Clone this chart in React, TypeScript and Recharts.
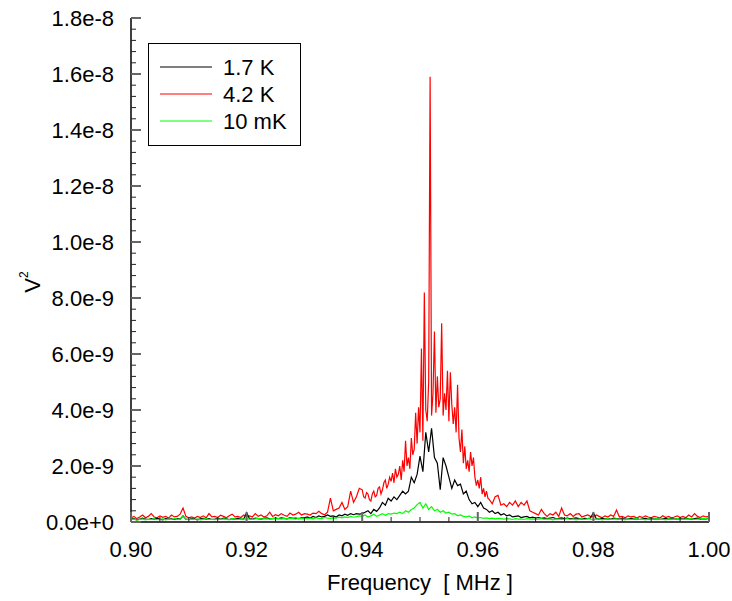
import { Legend, Line, LineChart, XAxis, YAxis } from 'recharts';

// sweep grids, MHz (4.2 K trace is sampled finer across the resonance)
const COARSE_STEP = 0.0005;
const FINE_STEP = 0.00025;

// noise power, units of 1e-9 V^2; 0.900 .. 1.000 every 0.0005
const K17 = [
    0.1, 0.12, 0.08, 0.1, 0.14, 0.1, 0.09, 0.12, 0.1, 0.13,
    0.1, 0.08, 0.12, 0.1, 0.11, 0.09, 0.12, 0.1, 0.22, 0.1,
    0.09, 0.12, 0.1, 0.08, 0.11, 0.13, 0.1, 0.12, 0.09, 0.1,
    0.12, 0.1, 0.14, 0.11, 0.09, 0.12, 0.1, 0.13, 0.11, 0.1,
    0.33, 0.12, 0.1, 0.14, 0.12, 0.1, 0.13, 0.15, 0.11, 0.12,
    0.14, 0.12, 0.15, 0.13, 0.11, 0.16, 0.13, 0.14, 0.12, 0.15,
    0.15, 0.18, 0.14, 0.2, 0.16, 0.22, 0.18, 0.2, 0.25, 0.2,
    0.22, 0.18, 0.25, 0.22, 0.28, 0.24, 0.3, 0.26, 0.3, 0.28,
    0.3, 0.35, 0.4, 0.3, 0.45, 0.38, 0.5, 0.7, 0.6, 0.85,
    0.75, 0.9, 0.8, 0.95, 1.1, 1.0, 1.1, 1.6, 1.4, 1.7,
    2.35, 1.8, 3.2, 2.5, 3.35, 2.3, 2.1, 1.15, 2.3, 2.0,
    1.6, 1.2, 1.5, 1.3, 1.35, 1.0, 1.1, 0.8, 0.65, 0.7,
    0.55, 0.7, 0.5, 0.45, 0.35, 0.4, 0.3, 0.35, 0.25, 0.3,
    0.22, 0.25, 0.18, 0.2, 0.22, 0.16, 0.18, 0.2, 0.15, 0.17,
    0.14, 0.16, 0.13, 0.15, 0.12, 0.14, 0.16, 0.12, 0.13, 0.15,
    0.12, 0.14, 0.11, 0.13, 0.15, 0.12, 0.1, 0.13, 0.12, 0.14,
    0.33, 0.12, 0.1, 0.13, 0.11, 0.12, 0.1, 0.14, 0.12, 0.1,
    0.12, 0.1, 0.11, 0.13, 0.1, 0.12, 0.09, 0.11, 0.13, 0.1,
    0.11, 0.1, 0.12, 0.09, 0.11, 0.13, 0.1, 0.12, 0.1, 0.11,
    0.12, 0.1, 0.13, 0.11, 0.1, 0.12, 0.14, 0.1, 0.12, 0.11, 0.13,
];

const MK10 = [
    0.08, 0.1, 0.07, 0.09, 0.11, 0.08, 0.1, 0.09, 0.12, 0.08,
    0.09, 0.11, 0.08, 0.1, 0.09, 0.12, 0.1, 0.09, 0.2, 0.1,
    0.08, 0.1, 0.09, 0.11, 0.08, 0.1, 0.12, 0.09, 0.1, 0.08,
    0.1, 0.09, 0.11, 0.1, 0.08, 0.12, 0.1, 0.09, 0.11, 0.1,
    0.12, 0.1, 0.09, 0.11, 0.13, 0.1, 0.12, 0.1, 0.11, 0.13,
    0.11, 0.12, 0.1, 0.13, 0.11, 0.14, 0.12, 0.1, 0.13, 0.12,
    0.13, 0.12, 0.14, 0.11, 0.15, 0.13, 0.12, 0.16, 0.14, 0.13,
    0.15, 0.14, 0.17, 0.15, 0.18, 0.16, 0.2, 0.17, 0.19, 0.22,
    0.2, 0.25, 0.18, 0.22, 0.28, 0.2, 0.25, 0.3, 0.24, 0.3,
    0.28, 0.32, 0.3, 0.35, 0.3, 0.4, 0.35, 0.45, 0.5, 0.62,
    0.7, 0.5, 0.65, 0.45, 0.55, 0.4, 0.45, 0.35, 0.4, 0.32,
    0.35, 0.28, 0.3, 0.22, 0.25, 0.2, 0.18, 0.22, 0.15, 0.18,
    0.14, 0.16, 0.13, 0.15, 0.12, 0.14, 0.11, 0.13, 0.12, 0.1,
    0.12, 0.11, 0.09, 0.12, 0.1, 0.11, 0.09, 0.12, 0.1, 0.11,
    0.09, 0.1, 0.12, 0.09, 0.11, 0.1, 0.08, 0.11, 0.1, 0.09,
    0.1, 0.12, 0.09, 0.11, 0.08, 0.1, 0.11, 0.09, 0.12, 0.1,
    0.09, 0.1, 0.11, 0.08, 0.1, 0.12, 0.09, 0.1, 0.11, 0.09,
    0.1, 0.08, 0.11, 0.09, 0.1, 0.12, 0.09, 0.1, 0.08, 0.11,
    0.09, 0.1, 0.12, 0.09, 0.1, 0.08, 0.11, 0.1, 0.09, 0.12,
    0.1, 0.09, 0.11, 0.1, 0.12, 0.09, 0.1, 0.11, 0.13, 0.12, 0.15,
];

// 4.2 K: 0.900 .. 0.9395 every 0.0005
const K42_LOW = [
    0.15, 0.2, 0.12, 0.18, 0.25, 0.15, 0.2, 0.3, 0.18, 0.15,
    0.22, 0.17, 0.2, 0.14, 0.25, 0.18, 0.2, 0.28, 0.5, 0.2,
    0.15, 0.18, 0.14, 0.2, 0.16, 0.22, 0.15, 0.3, 0.18, 0.2,
    0.16, 0.24, 0.2, 0.15, 0.22, 0.28, 0.18, 0.2, 0.16, 0.25,
    0.2, 0.22, 0.18, 0.3, 0.2, 0.25, 0.18, 0.22, 0.35, 0.2,
    0.26, 0.22, 0.3, 0.24, 0.2, 0.32, 0.25, 0.28, 0.35, 0.25,
    0.3, 0.28, 0.25, 0.32, 0.3, 0.38, 0.3, 0.26, 0.35, 0.85,
    0.4, 0.45, 0.5, 0.7, 0.45, 0.55, 1.1, 0.7, 0.9, 1.2,
];
const K42_LOW_START = 0.9;

// 4.2 K: 0.940 .. 0.96175 every 0.00025
const K42_CORE = [
    1.15, 0.9, 0.85, 1.05, 1.0, 0.8, 0.75, 1.0, 1.1, 0.9,
    0.95, 1.2, 1.25, 1.0, 1.15, 1.4, 1.5, 1.2, 1.35, 1.6,
    1.45, 1.75, 1.4, 1.9, 1.6, 1.7, 2.0, 1.5, 2.2, 1.8,
    2.9, 2.0, 2.3, 1.9, 3.0, 2.4, 2.6, 3.9, 2.8, 4.1,
    3.2, 6.2, 2.9, 8.2, 4.0, 3.6, 5.0, 15.9, 3.8, 4.6,
    6.8, 3.9, 5.2, 4.1, 4.4, 7.1, 3.8, 4.6, 4.0, 5.4,
    3.6, 5.35, 4.2, 3.5, 4.1, 3.2, 4.9, 3.0, 2.5, 3.3,
    2.1, 2.7, 1.9, 2.2, 1.8, 2.5, 2.0, 2.3, 1.6, 1.3,
    1.5, 1.2, 1.6, 1.0, 1.2, 0.9, 1.1, 0.85,
];
const K42_CORE_START = 0.94;

// 4.2 K: 0.962 .. 1.000 every 0.0005
const K42_HIGH = [
    0.8, 0.65, 0.9, 0.95, 0.6, 0.65,
    0.55, 0.7, 0.6, 0.75, 0.55, 0.7, 0.6, 0.75, 0.4, 0.35,
    0.3, 0.25, 0.45, 0.3, 0.2, 0.3, 0.25, 0.35, 0.2, 0.5,
    0.25, 0.22, 0.3, 0.2, 0.28, 0.3, 0.18, 0.22, 0.25, 0.2,
    0.18, 0.25, 0.2, 0.15, 0.22, 0.18, 0.25, 0.2, 0.43, 0.18,
    0.2, 0.15, 0.22, 0.18, 0.2, 0.14, 0.2, 0.16, 0.22, 0.18,
    0.15, 0.2, 0.18, 0.14, 0.22, 0.16, 0.2, 0.15, 0.18, 0.22,
    0.16, 0.2, 0.15, 0.25, 0.18, 0.3, 0.2, 0.16, 0.22, 0.18, 0.2,
];
const K42_HIGH_START = 0.962;

const X_TICKS = [0.9, 0.92, 0.94, 0.96, 0.98, 1.0];
const Y_TICKS = [0, 2e-9, 4e-9, 6e-9, 8e-9, 1e-8, 1.2e-8, 1.4e-8, 1.6e-8, 1.8e-8];

const SERIES = [
    { key: 'k17', name: '1.7 K', color: '#000000' },
    { key: 'k42', name: '4.2 K', color: '#ff0000' },
    { key: 'mk10', name: '10 mK', color: '#00ff00' },
];

const toPoints = (vals: number[], start: number, step: number) =>
    vals.map((v, i) => ({ f: +(start + i * step).toFixed(5), v: v * 1e-9 }));

const k17Data = toPoints(K17, 0.9, COARSE_STEP);
const mk10Data = toPoints(MK10, 0.9, COARSE_STEP);
const k42Data = [
    ...toPoints(K42_LOW, K42_LOW_START, COARSE_STEP),
    ...toPoints(K42_CORE, K42_CORE_START, FINE_STEP),
    ...toPoints(K42_HIGH, K42_HIGH_START, COARSE_STEP),
];

const W = 732;
const H = 601;
const PLOT = { left: 131, top: 18, right: 709, bottom: 522 };
const FONT = "'Liberation Sans', Arial, sans-serif";
const FS = 22;

// major ticks plus evenly spaced minor ones in between
const withMinor = (major: number[], n: number) => {
    const out: number[] = [];
    for (let i = 0; i < major.length - 1; i++) {
        for (let j = 0; j < n; j++) out.push(major[i] + ((major[i + 1] - major[i]) * j) / n);
    }
    out.push(major[major.length - 1]);
    return out;
};
const X_ALL = withMinor(X_TICKS, 4);
const Y_ALL = withMinor(Y_TICKS, 5);

const isMajor = (list: number[], v: number) => list.some((t) => Math.abs(t - v) < 1e-12 + Math.abs(t) * 1e-9);

const MAJOR_LEN = 10;
const MINOR_LEN = 5;
const tickStroke = (major: boolean) => (major ? { stroke: '#666', strokeWidth: 2 } : { stroke: '#222', strokeWidth: 1 });

const BottomTick = (props: any) => {
    const { x, payload } = props;
    const major = isMajor(X_TICKS, payload.value);
    return (
        <g>
            <line x1={x} x2={x} y1={PLOT.bottom} y2={PLOT.bottom - (major ? MAJOR_LEN : MINOR_LEN)} {...tickStroke(major)} />
            {major && (
                <text x={x} y={549} textAnchor="middle" dominantBaseline="central" fontFamily={FONT} fontSize={FS} fill="#000">
                    {payload.value.toFixed(2)}
                </text>
            )}
        </g>
    );
};

const TopTick = (props: any) => {
    const { x } = props;
    return <line x1={x} x2={x} y1={PLOT.top} y2={PLOT.top + MINOR_LEN} stroke="#222" />;
};

const LeftTick = (props: any) => {
    const { y, payload } = props;
    const major = isMajor(Y_TICKS, payload.value);
    return (
        <g>
            <line x1={PLOT.left} x2={PLOT.left + (major ? MAJOR_LEN : MINOR_LEN)} y1={y} y2={y} {...tickStroke(major)} />
            {major && (
                <text x={114} y={y} textAnchor="end" dominantBaseline="central" fontFamily={FONT} fontSize={FS} fill="#000">
                    {payload.value.toExponential(1)}
                </text>
            )}
        </g>
    );
};

const RightTick = (props: any) => {
    const { y, payload } = props;
    const major = isMajor(Y_TICKS, payload.value);
    return <line x1={PLOT.right} x2={PLOT.right - (major ? MAJOR_LEN : MINOR_LEN)} y1={y} y2={y} stroke="#222" />;
};

const LegendBox = () => (
    <svg width={153} height={103} style={{ display: 'block' }}>
        <rect x={0.5} y={0.5} width={152} height={102} fill="#fff" stroke="#000" />
        {SERIES.map((s, i) => {
            const y = 24 + i * 27;
            return (
                <g key={s.key}>
                    <line x1={12} x2={64} y1={y} y2={y} stroke={s.color} strokeWidth={1.2} />
                    <text x={75} y={y} dominantBaseline="central" fontFamily={FONT} fontSize={FS} fill="#000">
                        {s.name}
                    </text>
                </g>
            );
        })}
    </svg>
);

export default function App() {
    return (
        <div style={{ position: 'absolute', left: 0, top: 0 }}>
            <LineChart width={W} height={H} margin={{ top: PLOT.top, right: W - PLOT.right, bottom: 0, left: 0 }}>
                <XAxis
                    dataKey="f"
                    type="number"
                    domain={[0.9, 1.0]}
                    allowDataOverflow
                    ticks={X_ALL}
                    interval={0}
                    height={H - PLOT.bottom}
                    tickLine={false}
                    tick={<BottomTick />}
                    axisLine={{ stroke: '#000', strokeWidth: 1.5 }}
                    label={{
                        content: () => (
                            <text x={(PLOT.left + PLOT.right) / 2} y={582} textAnchor="middle" dominantBaseline="central" fontFamily={FONT} fontSize={FS} fill="#000" style={{ whiteSpace: 'pre' }}>
                                {'Frequency  [ MHz ]'}
                            </text>
                        ),
                    }}
                />
                <XAxis
                    xAxisId="top"
                    orientation="top"
                    dataKey="f"
                    type="number"
                    domain={[0.9, 1.0]}
                    allowDataOverflow
                    ticks={X_ALL}
                    interval={0}
                    height={0}
                    tickLine={false}
                    tick={<TopTick />}
                    axisLine={{ stroke: '#000', strokeWidth: 1.5 }}
                />
                <YAxis
                    type="number"
                    domain={[0, 1.8e-8]}
                    allowDataOverflow
                    ticks={Y_ALL}
                    interval={0}
                    width={PLOT.left}
                    tickLine={false}
                    tick={<LeftTick />}
                    axisLine={{ stroke: '#000', strokeWidth: 1.5 }}
                    label={{
                        content: () => (
                            <text x={32} y={282} transform="rotate(-90 32 282)" textAnchor="middle" dominantBaseline="central" fontFamily={FONT} fontSize={FS} fill="#000">
                                V<tspan fontSize={12} dy={-8}>2</tspan>
                            </text>
                        ),
                    }}
                />
                <YAxis
                    yAxisId="right"
                    orientation="right"
                    type="number"
                    domain={[0, 1.8e-8]}
                    allowDataOverflow
                    ticks={Y_ALL}
                    interval={0}
                    width={0}
                    tickLine={false}
                    tick={<RightTick />}
                    axisLine={{ stroke: '#000', strokeWidth: 1.5 }}
                />
                <Legend
                    layout="horizontal"
                    verticalAlign="middle"
                    align="center"
                    content={() => <LegendBox />}
                    wrapperStyle={{ left: 148, top: 43, width: 153, height: 103 }}
                />
                <Line data={k42Data} dataKey="v" name="4.2 K" type="linear" stroke="#ff0000" strokeWidth={1.2} dot={false} isAnimationActive={false} />
                <Line data={k17Data} dataKey="v" name="1.7 K" type="linear" stroke="#000000" strokeWidth={1.2} dot={false} isAnimationActive={false} />
                <Line data={mk10Data} dataKey="v" name="10 mK" type="linear" stroke="#00ff00" strokeWidth={1.2} dot={false} isAnimationActive={false} />
            </LineChart>
        </div>
    );
}
